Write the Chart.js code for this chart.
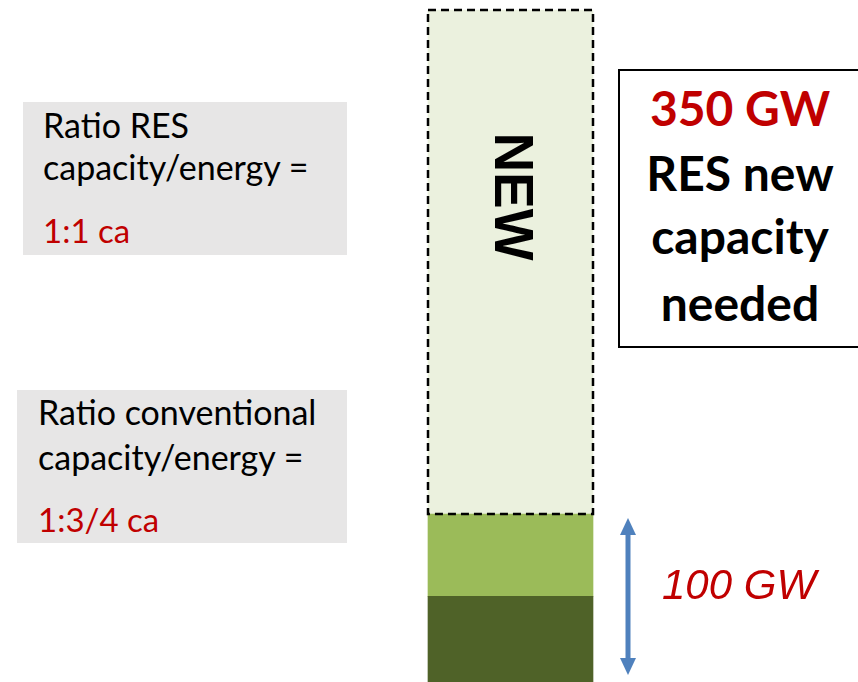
<!DOCTYPE html>
<html>
<head>
<meta charset="utf-8">
<script src="https://cdn.jsdelivr.net/npm/chart.js@4"></script>
<style>
  html, body { margin: 0; padding: 0; background: #fff; overflow: hidden; }
  #wrap { position: relative; width: 858px; height: 682px; }
  #wrap canvas { position: absolute; left: 0; top: 0; }
  .box { position: absolute; background: #E7E6E6; }
  .ln { position: absolute; white-space: nowrap; line-height: 1; font-family: Lato, 'Open Sans', sans-serif; color: #000; }
  .red { color: #C00000; }
  #needBox { position: absolute; left: 618px; top: 69px; width: 244px; height: 279px; box-sizing: border-box; border: 2px solid #000; background: #fff; }
  #needBox .ln { font-weight: bold; font-size: 48px; left: 0; width: 100%; text-align: center; }
  #gw { position: absolute; left: 662px; top: 564px; font: italic 42px 'Liberation Sans', Arial, sans-serif; color: #C00000; line-height: 1; white-space: nowrap; }
</style>
</head>
<body>
<div id="wrap">
  <canvas id="capChart" width="858" height="682"></canvas>

  <div class="box" style="left:23px; top:102px; width:324px; height:153px;"></div>
  <div class="ln" style="left:43px; top:108px; font-size:34px;">Ratio RES</div>
  <div class="ln" style="left:43px; top:150px; font-size:34px;">capacity/energy =</div>
  <div class="ln red" style="left:43px; top:214px; font-size:33px;">1:1 ca</div>

  <div class="box" style="left:17px; top:390px; width:330px; height:153px;"></div>
  <div class="ln" style="left:38px; top:395px; font-size:34px;">Ratio conventional</div>
  <div class="ln" style="left:38px; top:440px; font-size:34px;">capacity/energy =</div>
  <div class="ln red" style="left:38px; top:503px; font-size:33px;">1:3/4 ca</div>

  <div id="needBox">
    <div class="ln red" style="top:13px;">350 GW</div>
    <div class="ln" style="top:78px;">RES new</div>
    <div class="ln" style="top:141px;">capacity</div>
    <div class="ln" style="top:208px;">needed</div>
  </div>

  <div id="gw">100 GW</div>
</div>

<script>
// capacity stack, GW
const categories = ['Capacity'];
const seriesNames = ['Conventional', 'RES existing', 'NEW'];
const conventional = [51];
const resExisting = [49];
const resNew = [300];
const arrowSpan = [0, 100];   // GW range marked by the blue arrow
const yMax = 406;

// dashed outline + rotated label for the NEW block, and the 100 GW arrow
const decorations = {
  id: 'decorations',
  afterDatasetsDraw(chart) {
    const ctx = chart.ctx;
    const bar = chart.getDatasetMeta(2).data[0];
    const left = bar.x - bar.width / 2;
    const right = bar.x + bar.width / 2;

    ctx.save();
    ctx.strokeStyle = '#000';
    ctx.lineWidth = 2.5;
    ctx.setLineDash([8, 5]);
    ctx.strokeRect(left, bar.y, bar.width, bar.base - bar.y);
    ctx.restore();

    // NEW, reading top to bottom
    ctx.save();
    ctx.translate(bar.x, bar.y + 0.37 * (bar.base - bar.y));
    ctx.rotate(Math.PI / 2);
    ctx.fillStyle = '#000';
    ctx.font = 'bold 55px "Liberation Sans", Arial, sans-serif';
    ctx.textAlign = 'center';
    ctx.textBaseline = 'middle';
    ctx.fillText('NEW', 0, 0);
    ctx.restore();

    // double arrow
    const y = chart.scales.y;
    const ax = right + 35;
    const top = y.getPixelForValue(arrowSpan[1]) + 4;
    const bottom = y.getPixelForValue(arrowSpan[0]) - 7;
    const head = 17, half = 8;
    ctx.save();
    ctx.strokeStyle = '#4F81BD';
    ctx.fillStyle = '#4F81BD';
    ctx.lineWidth = 5;
    ctx.beginPath();
    ctx.moveTo(ax, top + head - 2);
    ctx.lineTo(ax, bottom - head + 2);
    ctx.stroke();
    ctx.beginPath();
    ctx.moveTo(ax, top);
    ctx.lineTo(ax + half, top + head);
    ctx.lineTo(ax - half, top + head);
    ctx.closePath();
    ctx.fill();
    ctx.beginPath();
    ctx.moveTo(ax, bottom);
    ctx.lineTo(ax + half, bottom - head);
    ctx.lineTo(ax - half, bottom - head);
    ctx.closePath();
    ctx.fill();
    ctx.restore();
  }
};

new Chart(document.getElementById('capChart'), {
  type: 'bar',
  data: {
    labels: categories,
    datasets: [
      { label: seriesNames[0], data: conventional, backgroundColor: '#4F6228', borderWidth: 0 },
      { label: seriesNames[1], data: resExisting, backgroundColor: '#9BBB59', borderWidth: 0 },
      { label: seriesNames[2], data: resNew, backgroundColor: '#EBF1DE', borderWidth: 0 }
    ]
  },
  options: {
    responsive: false,
    animation: false,
    layout: { padding: { left: 163, right: 0, top: 0, bottom: 0 } },
    datasets: { bar: { barThickness: 165 } },
    plugins: { legend: { display: false }, tooltip: { enabled: false } },
    scales: {
      x: { stacked: true, display: false },
      y: { stacked: true, display: false, min: 0, max: yMax }
    }
  },
  plugins: [decorations]
});
</script>
</body>
</html>
